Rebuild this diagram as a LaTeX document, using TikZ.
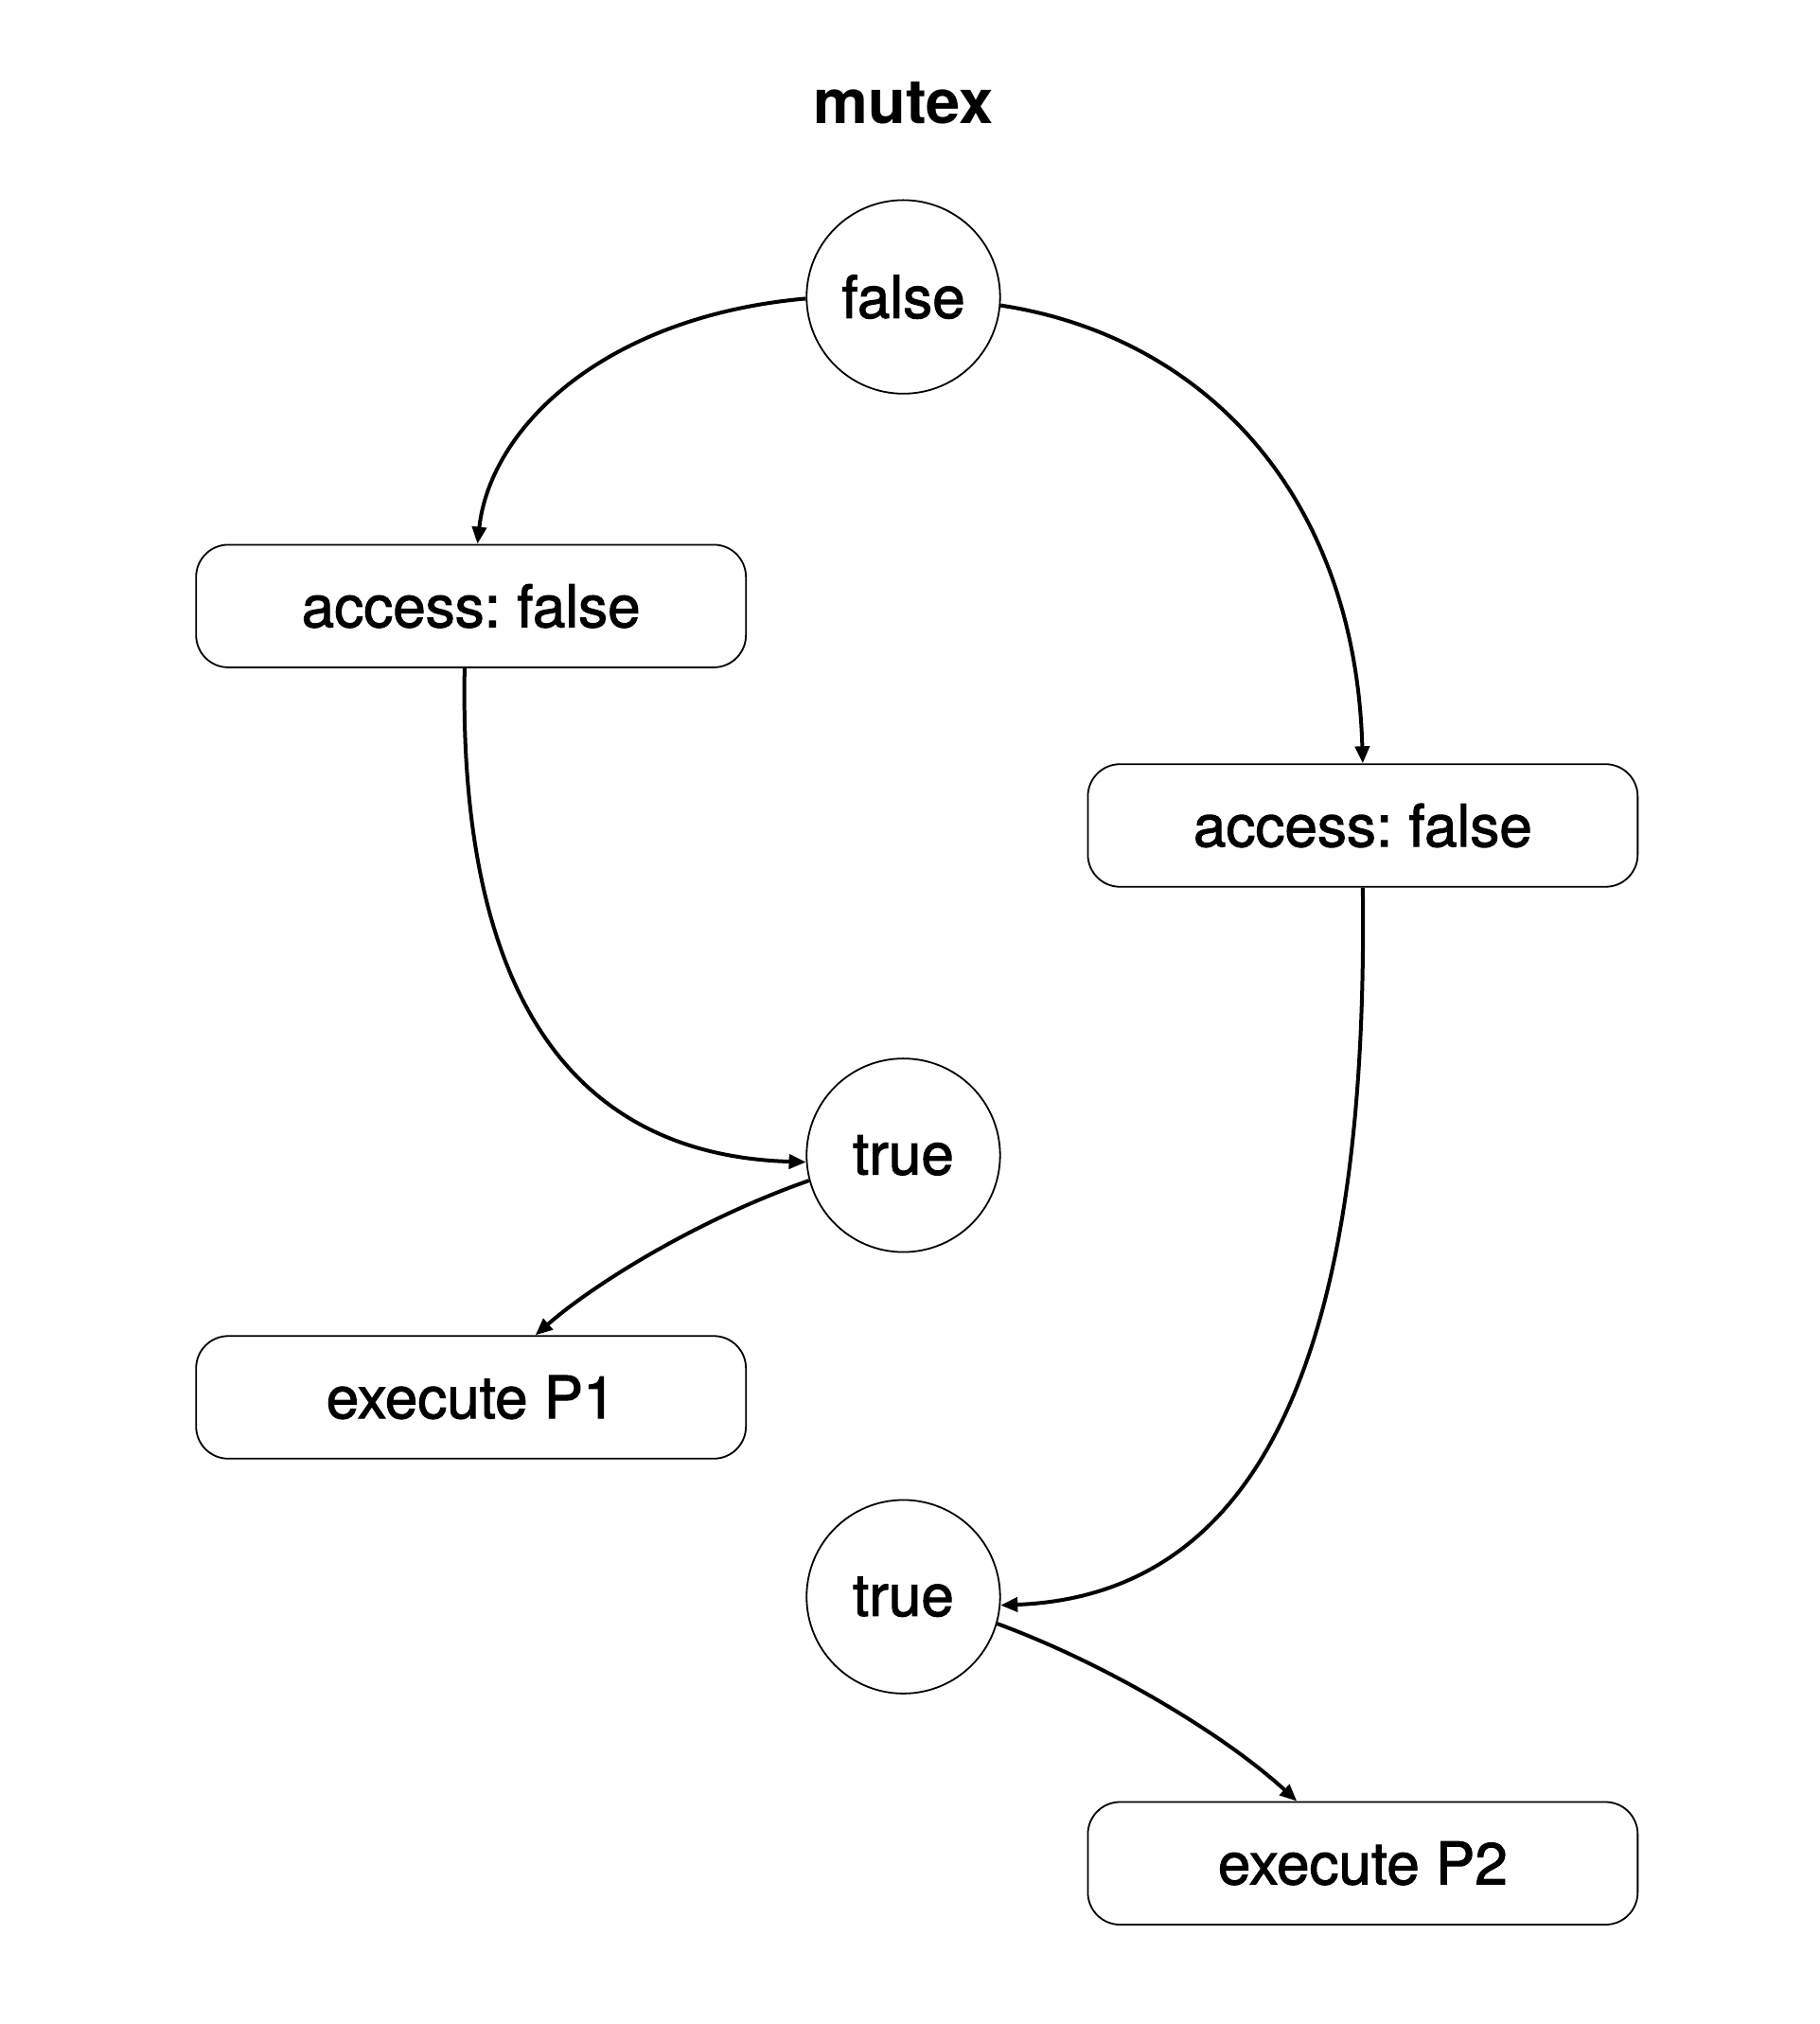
\documentclass[tikz,border=0pt]{standalone}
\usepackage{fontspec}
\setmainfont{TeX Gyre Heros}
\newfontfamily\medfont{TeX Gyre Heros}[FakeBold=1.6]
\frenchspacing
\usetikzlibrary{arrows.meta}
\begin{document}
\begin{tikzpicture}[x=0.6816pt,y=-0.6816pt,
  state/.style={circle,draw,line width=0.9pt,minimum size=102.2pt,inner sep=0pt,font=\medfont\fontsize{31}{37}\selectfont},
  stepbox/.style={draw,line width=0.9pt,rounded corners=17pt,minimum width=290.4pt,minimum height=64.75pt,font=\medfont\fontsize{31}{37}\selectfont},
  conn/.style={line width=2pt,-{Triangle[length=9pt,width=7.5pt]}}]
\useasboundingbox[fill=white] (0,0) rectangle (1410,1568);
\node[font=\bfseries\fontsize{32.5}{38}\selectfont] (title) at (700,80) {mutex};
\node[state] (f) at (700,230) {false};
\node[stepbox] (accL) at (365,469.5) {access: false};
\node[stepbox] (accR) at (1056,639.5) {access: false};
\node[state] (t1) at (700,895) {true};
\node[stepbox] (ex1) at (365,1082.5) {execute P1};
\node[state] (t2) at (700,1237) {true};
\node[stepbox] (ex2) at (1056,1443.5) {execute P2};
\draw[conn] (f.181) .. controls (470,245) and (380,330) .. ([xshift=3.4pt]accL.north);
\draw[conn] (f.355) .. controls (930,260) and (1050,380) .. (accR.north);
\draw[conn] ([xshift=-3.4pt]accL.south) .. controls (355,780) and (450,895) .. (t1.184);
\draw[conn] (t1.195) .. controls (540,945) and (460,995) .. ([xshift=34pt]ex1.north);
\draw[conn] (accR.south) .. controls (1060,1000) and (1000,1235) .. (t2.355);
\draw[conn] (t2.344) .. controls (860,1290) and (950,1345) .. ([xshift=-34.8pt]ex2.north);
\end{tikzpicture}
\end{document}
